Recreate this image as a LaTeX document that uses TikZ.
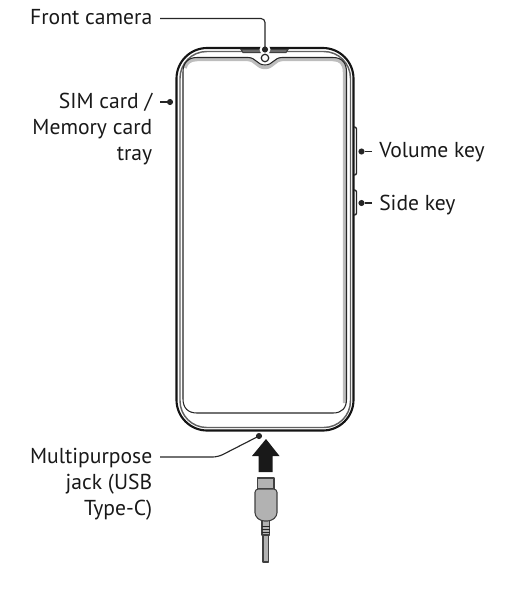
\documentclass[tikz,border=0pt]{standalone}
\usepackage{fontspec}
\setmainfont{PT Sans}
\def\scrpath{(183,72) .. controls (183,63) and (188,57.5) .. (197,57.5) -- (248,57.5) .. controls (256,57.5) and (257,65) .. (265,65) .. controls (273,65) and (274,57.5) .. (282,57.5) -- (333,57.5) .. controls (342,57.5) and (346.5,63) .. (346.5,72) -- (346.5,399) .. controls (346.5,408) and (342,413) .. (333,413) -- (197,413) .. controls (188,413) and (183,408) .. (183,399) -- cycle}
\tikzset{
  lbl/.style={font=\fontsize{16.2}{19.5}\selectfont, inner sep=0pt, text=black!90},
  lead/.style={line width=0.85pt, black!85},
  dot/.style={circle, fill=black!85, inner sep=0pt, minimum size=4.6pt},
  cablepart/.style={draw=black!75, fill=black!30, line width=0.8pt, line join=round}
}
\begin{document}
\begin{tikzpicture}[x=0.75pt,y=-0.75pt]
\useasboundingbox (0,0) rectangle (520,601);
% body
\draw[line width=1.6pt,black!92,rounded corners=23] (176.5,48) rectangle (353.5,430.5);
\draw[line width=1.1pt,black!62,rounded corners=20] (180,51.5) rectangle (350.5,427.5);
% screen shading
\draw[line width=2.6pt,black!26,line join=round]
 (185,68) .. controls (186,63) and (190,59.5) .. (197,59.5) -- (248,59.5) .. controls (256,60) and (257,67.5) .. (265,67.5) .. controls (273,67.5) and (274,60) .. (282,59.5) -- (333,59.5) .. controls (340,59.5) and (344.5,63) .. (344.5,72) -- (344.5,403);
% screen
\draw[line width=0.8pt,black!85,line join=round] \scrpath;
% earpiece
\draw[line width=0.8pt,black!75,fill=black!55] (241,49.5) -- (288,49.5) -- (286,52.5) -- (243,52.5) -- cycle;
\fill[white] (265,49.5) circle (5.5);
\fill[white] (265,58) circle (5);
\node[circle,draw=black!85,line width=0.9pt,fill=white,inner sep=0pt,minimum size=5.6pt] (cam) at (265,58) {};
% side keys
\draw[line width=1pt,black!85,rounded corners=1.5] (354,127) -- (356.5,127) -- (356.5,175) -- (354,175);
\draw[line width=1pt,black!85,rounded corners=1.5] (354,190) -- (356.5,190) -- (356.5,215) -- (354,215);
% labels
\node[lbl,anchor=east,align=right] (fc) at (152.5,17.5) {Front camera};
\node[lbl,anchor=north east,align=right] (sim) at (152.5,92.5) {SIM card /\\Memory card\\tray};
\node[lbl,anchor=west] (vk) at (379,152.5) {Volume key};
\node[lbl,anchor=west] (sk) at (379,205.5) {Side key};
\node[lbl,anchor=north east,align=right] (mj) at (152.5,448) {Multipurpose\\jack (USB\\Type-C)};
% leaders
\node[dot] (dfc) at (265,49.5) {};
\node[dot] (dsim) at (170,102) {};
\node[dot] (dvk) at (361.5,151.5) {};
\node[dot] (dsk) at (361.5,203) {};
\node[dot] (dmj) at (259,436) {};
\coordinate (cfc) at (160,18.5);
\coordinate (csim) at (160,102);
\coordinate (cvk) at (372,151.5);
\coordinate (csk) at (372,203);
\coordinate (cmj) at (160,457);
\draw[lead,rounded corners=3] (cfc) -- (265,18.5) -- (dfc.center);
\draw[lead] (csim) -- (dsim);
\draw[lead] (cvk) -- (dvk);
\draw[lead] (csk) -- (dsk);
\draw[lead,rounded corners=4] (cmj) -- (218,457) -- (dmj.center);
% arrow
\fill[black!90] (266,439) -- (279.5,456) -- (272.5,456) -- (272.5,472) -- (258.5,472) -- (258.5,456) -- (252,456) -- cycle;
% cable
\draw[cablepart] (257.5,478) -- (274,478) -- (274,489) -- (257.5,489) -- cycle;
\draw[cablepart] (263,534) -- (268.5,534) -- (268.5,562) -- (263,562) -- cycle;
\draw[cablepart] (262,520) -- (269.5,520) -- (269.5,535) -- (262,535) -- cycle;
\draw[cablepart,rounded corners=2.5] (255,489) -- (277,489) -- (277,516) -- (271,521) -- (261,521) -- (255,516) -- cycle;
\foreach \y in {526,529,532} \draw[line width=0.6pt,black!85] (262,\y) -- (269.5,\y);
\end{tikzpicture}
\end{document}
